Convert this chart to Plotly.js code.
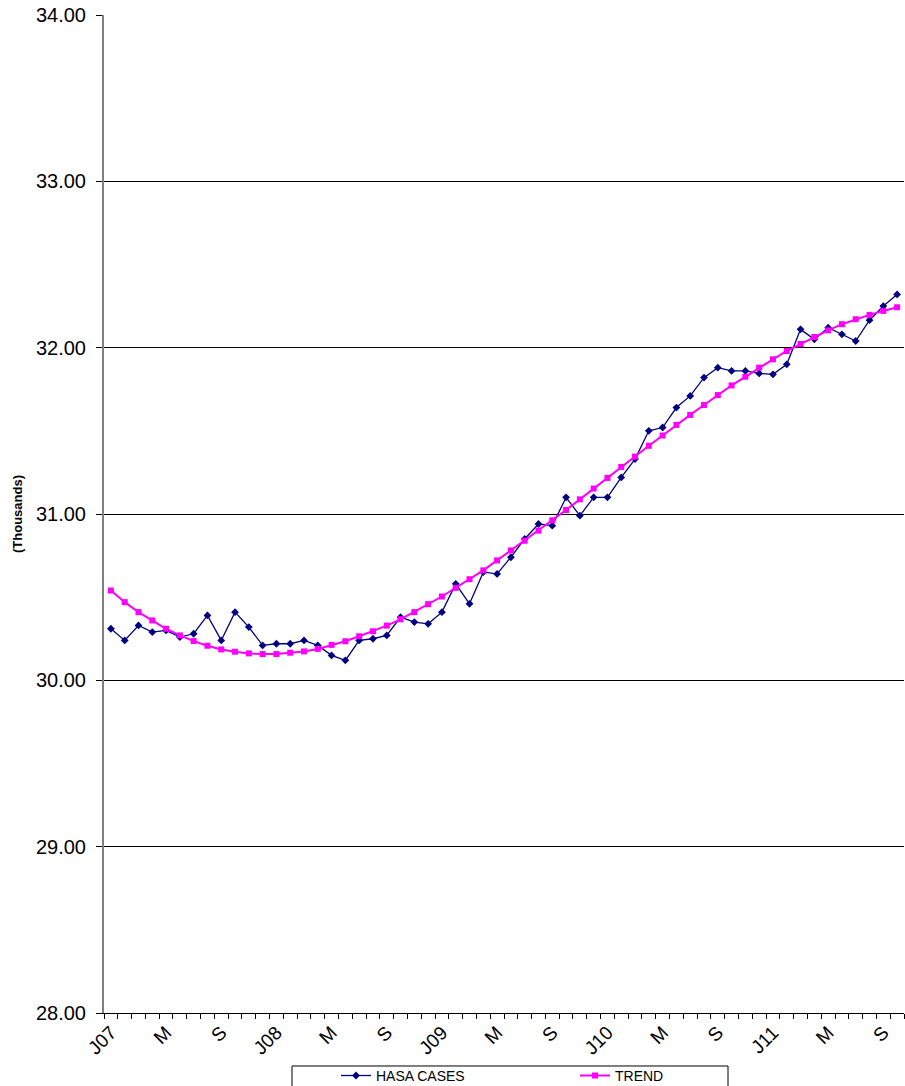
<!DOCTYPE html>
<html>
<head>
<meta charset="utf-8">
<script src="https://cdn.plot.ly/plotly-3.0.1.min.js"></script>
<style>
html,body{margin:0;padding:0;background:#fff;}
#chart{width:905px;height:1086px;}
</style>
</head>
<body>
<div id="chart"></div>
<script>
// Monthly values, Jan 2007 - Oct 2011 (thousands)
var hasaCases = [
  30.31, 30.24, 30.33, 30.29, 30.30, 30.26, 30.28, 30.39, 30.24, 30.41, 30.32, 30.21,
  30.22, 30.22, 30.24, 30.21, 30.15, 30.12, 30.24, 30.25, 30.27, 30.38, 30.35, 30.34,
  30.41, 30.58, 30.46, 30.65, 30.64, 30.74, 30.85, 30.94, 30.93, 31.10, 30.99, 31.10,
  31.10, 31.22, 31.33, 31.50, 31.52, 31.64, 31.71, 31.82, 31.88, 31.86, 31.86, 31.845,
  31.84, 31.90, 32.11, 32.05, 32.12, 32.08, 32.04, 32.165, 32.25, 32.32
];
var trend = [
  30.54, 30.47, 30.41, 30.36, 30.31, 30.27, 30.236, 30.208, 30.186, 30.172, 30.162, 30.158,
  30.158, 30.166, 30.174, 30.189, 30.213, 30.235, 30.265, 30.295, 30.329, 30.367, 30.410, 30.458,
  30.504, 30.556, 30.608, 30.661, 30.721, 30.781, 30.839, 30.900, 30.962, 31.024, 31.088, 31.153,
  31.217, 31.283, 31.345, 31.410, 31.472, 31.536, 31.596, 31.655, 31.715, 31.773, 31.825, 31.880,
  31.930, 31.980, 32.022, 32.064, 32.104, 32.141, 32.171, 32.197, 32.221, 32.243
];
var tickLabels = ['J07','M','S','J08','M','S','J09','M','S','J10','M','S','J11','M','S'];
var labelEvery = 4;

var idx = hasaCases.map(function(_, i){ return i; });
var tickVals = tickLabels.map(function(_, i){ return i * labelEvery; });

var font = 'Liberation Sans, Arial, sans-serif';

var traces = [
  {
    x: idx, y: hasaCases, name: 'HASA CASES', type: 'scatter', mode: 'lines+markers',
    line: {color: '#000080', width: 1.3},
    marker: {symbol: 'diamond', size: 6, color: '#000080'}
  },
  {
    x: idx, y: trend, name: 'TREND', type: 'scatter', mode: 'lines+markers',
    line: {color: '#FF00FF', width: 2},
    marker: {symbol: 'square', size: 6, color: '#FF00FF'}
  }
];

var layout = {
  width: 905, height: 1086,
  margin: {l: 104, r: 1, t: 15, b: 73, autoexpand: false},
  paper_bgcolor: '#fff', plot_bgcolor: '#fff',
  font: {family: font, color: '#000'},
  showlegend: true,
  legend: {
    orientation: 'h', x: 0.29, xanchor: 'left', y: -0.047, yanchor: 'top',
    font: {size: 14, family: font, color: '#000'},
    entrywidth: 194, entrywidthmode: 'pixels',
    bgcolor: 'rgba(0,0,0,0)', borderwidth: 0
  },
  xaxis: {
    range: [-0.5, hasaCases.length - 0.5],
    tickmode: 'array', tickvals: tickVals, ticktext: tickLabels,
    tickangle: -45, ticks: '', tickfont: {size: 19, family: font},
    showgrid: false, zeroline: false, automargin: false,
    showline: true, linecolor: '#000', linewidth: 1,
    minor: {tickmode: 'linear', tick0: -0.5, dtick: 1, ticks: 'outside', ticklen: 5, tickcolor: '#000', tickwidth: 1, showgrid: false}
  },
  yaxis: {
    range: [28, 34], tickmode: 'linear', tick0: 28, dtick: 1,
    tickformat: '.2f', tickfont: {size: 20, family: font},
    ticks: 'outside', ticklen: 6, tickcolor: '#000',
    ticklabelstandoff: 6, automargin: false,
    showgrid: true, gridcolor: '#000', gridwidth: 1,
    zeroline: false, showline: true, linecolor: '#808080', linewidth: 2,
    title: {text: '(Thousands)', font: {size: 13, family: font, weight: 'bold'}, standoff: 10}
  },
  shapes: [
    {type: 'rect', xref: 'paper', yref: 'paper', x0: 0.235, x1: 0.78, y0: -0.0531, y1: -0.09,
     line: {color: '#000', width: 1}, fillcolor: 'rgba(0,0,0,0)'}
  ]
};

Plotly.newPlot('chart', traces, layout, {displayModeBar: false, staticPlot: true});
</script>
</body>
</html>
